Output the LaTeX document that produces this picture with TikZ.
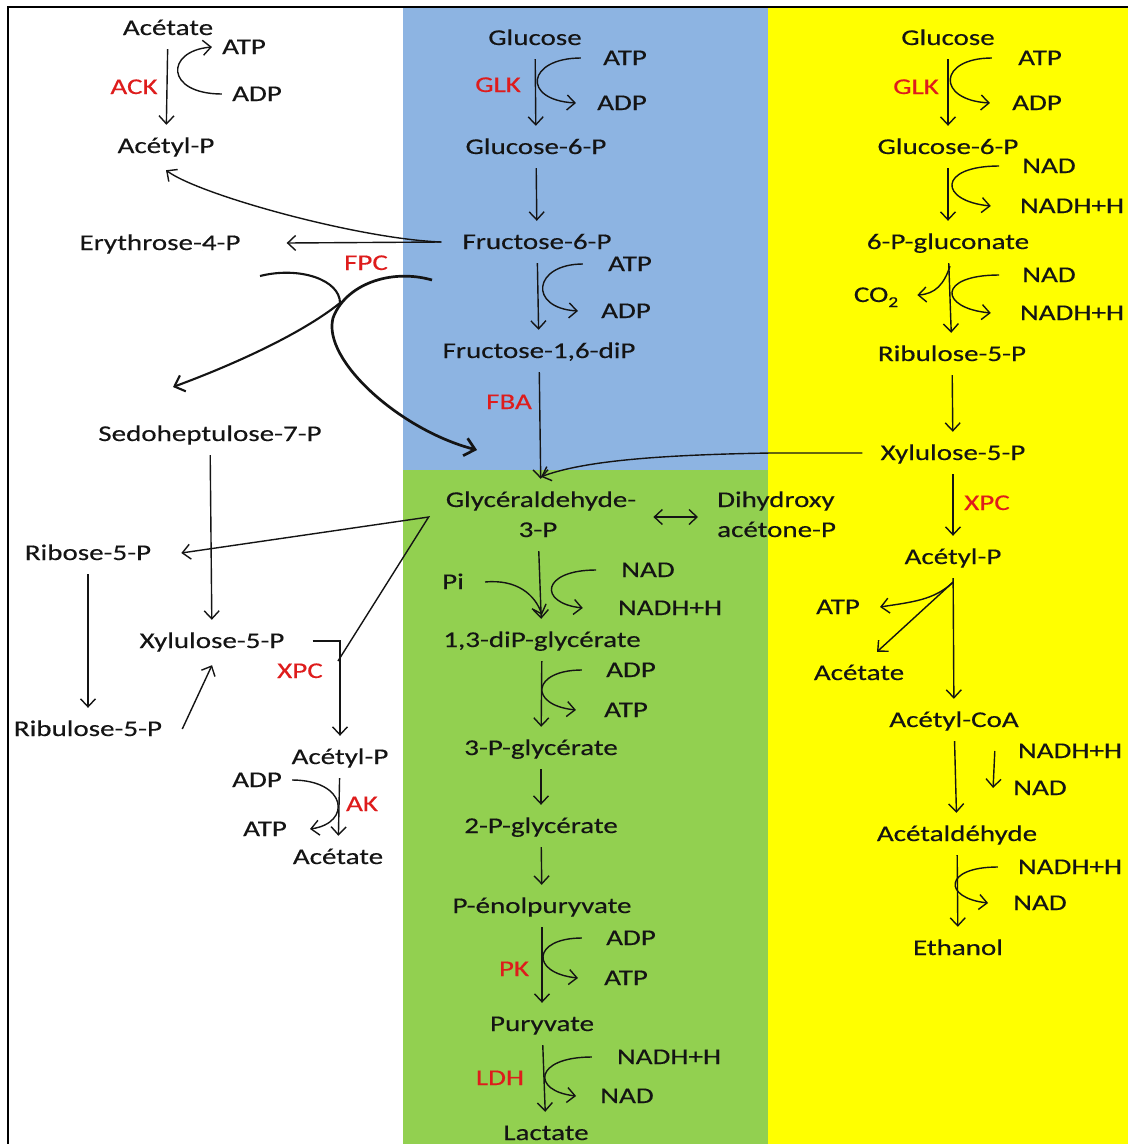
\documentclass[tikz,border=0pt]{standalone}
\usepackage{fontspec}
\setmainfont{Carlito}[FakeStretch=1.29,FakeBold=0.3]
\usetikzlibrary{arrows.meta,calc}
\definecolor{bluebg}{RGB}{141,180,226}
\definecolor{greenbg}{RGB}{146,208,80}
\definecolor{yellowbg}{RGB}{255,255,0}
\definecolor{enz}{RGB}{222,28,28}
\definecolor{ink}{RGB}{20,20,20}
\begin{document}
\begin{tikzpicture}[x=1pt,y=-1pt,
  lbl/.style={inner xsep=6pt, inner ysep=14pt, text height=14pt, text depth=0pt,
              font=\fontsize{22.5}{30}\selectfont, text=ink},
  enzyme/.style={lbl, text=enz},
  arr/.style={draw=ink, line width=1.4pt, -{Straight Barb[length=8pt,width=15pt]}},
  dblarr/.style={draw=ink, line width=1.4pt, {Straight Barb[length=8pt,width=15pt]}-{Straight Barb[length=8pt,width=15pt]}},
  fpcarrA/.style={draw=ink, line width=2.1pt, -{Straight Barb[length=9pt,width=17pt]}},
  fpcarrB/.style={draw=ink, line width=2.7pt, -{Straight Barb[length=10pt,width=18pt]}}]
\useasboundingbox (0,0) rectangle (1128,1144);
\fill[white] (0,0) rectangle (1128,1144);
\fill[bluebg] (403,8) rectangle (768,470);
\fill[greenbg] (403,470) rectangle (768,1144);
\fill[yellowbg] (768,8) rectangle (1128,1144);
\draw[line width=2.6pt] (8,1144) -- (8,7) -- (1128,7);

% ---------- left column ----------
\node[lbl] (acA) at (168,28) {Acétate};
\node[lbl] (atpA) at (244,47) {ATP};
\node[lbl] (adpA) at (257,94) {ADP};
\node[enzyme] (ack) at (134,87) {ACK};
\node[lbl] (acpA) at (166,146) {Acétyl-P};
\node[lbl] (ery) at (160,243) {Erythrose-4-P};
\node[enzyme] (fpc) at (366,263) {FPC};
\node[lbl] (sedo) at (210,434) {Sedoheptulose-7-P};
\node[lbl] (rib) at (88,553) {Ribose-5-P};
\node[lbl] (xylL) at (212,641) {Xylulose-5-P};
\node[enzyme] (xpcL) at (300,671) {XPC};
\node[lbl] (rbl) at (88,729) {Ribulose-5-P};
\node[lbl] (acpL) at (340,757) {Acétyl-P};
\node[lbl] (adpL) at (257,780) {ADP};
\node[enzyme] (ak) at (362,804) {AK};
\node[lbl] (atpL) at (265,829) {ATP};
\node[lbl] (acL) at (338,857) {Acétate};

% ---------- blue column ----------
\node[lbl] (glcB) at (535,38) {Glucose};
\node[lbl] (atpB1) at (625,58) {ATP};
\node[lbl] (adpB1) at (622,103) {ADP};
\node[enzyme] (glkB) at (498,85) {GLK};
\node[lbl] (g6pB) at (536,147) {Glucose-6-P};
\node[lbl] (f6p) at (537,242) {Fructose-6-P};
\node[lbl] (atpB2) at (630,264) {ATP};
\node[lbl] (adpB2) at (626,311) {ADP};
\node[lbl] (f16) at (539,351) {Fructose-1,6-diP};
\node[enzyme] (fba) at (509,402) {FBA};

% ---------- green column ----------
\node[lbl] (g3p) at (541,500) {Glycéraldehyde-};
\node[lbl] (g3pb) at (538,530) {3-P};
\node[lbl, anchor=west] (dhap1) at (711,500) {Dihydroxy};
\node[lbl, anchor=west] (dhap2) at (711,530) {acétone-P};
\node[lbl] (pi) at (453,582) {Pi};
\node[lbl] (nadG) at (648,570) {NAD};
\node[lbl] (nadhG) at (670,608) {NADH+H};
\node[lbl] (bpg) at (542,640) {1,3-diP-glycérate};
\node[lbl] (adpG) at (631,670) {ADP};
\node[lbl] (atpG) at (626,710) {ATP};
\node[lbl] (pg3) at (541,748) {3-P-glycérate};
\node[lbl] (pg2) at (541,826) {2-P-glycérate};
\node[lbl] (pep) at (542,906) {P-énolpuryvate};
\node[lbl] (adpG2) at (631,938) {ADP};
\node[lbl] (atpG2) at (626,978) {ATP};
\node[enzyme] (pk) at (514,969) {PK};
\node[lbl] (pyr) at (542,1024) {Puryvate};
\node[lbl] (nadhG2) at (669,1057) {NADH+H};
\node[lbl] (nadG2) at (627,1096) {NAD};
\node[enzyme] (ldh) at (500,1078) {LDH};
\node[lbl] (lac) at (546,1133) {Lactate};

% ---------- yellow column ----------
\node[lbl] (glcY) at (948,38) {Glucose};
\node[lbl] (atpY) at (1040,58) {ATP};
\node[lbl] (adpY) at (1037,103) {ADP};
\node[enzyme] (glkY) at (916,87) {GLK};
\node[lbl] (g6pY) at (948,147) {Glucose-6-P};
\node[lbl] (nadY1) at (1049,166) {NAD};
\node[lbl] (nadhY1) at (1072,206) {NADH+H};
\node[lbl] (pgl) at (948,242) {6-P-gluconate};
\node[lbl] (nadY2) at (1049,275) {NAD};
\node[lbl] (nadhY2) at (1072,313) {NADH+H};
\node[lbl] (co2) at (876,295) {CO\raisebox{-5pt}{\fontsize{15}{15}\selectfont 2}};
\node[lbl] (rblY) at (952,354) {Ribulose-5-P};
\node[lbl] (xylY) at (953,453) {Xylulose-5-P};
\node[enzyme] (xpcY) at (987,503) {XPC};
\node[lbl] (acpY) at (953,557) {Acétyl-P};
\node[lbl] (atpY2) at (838,607) {ATP};
\node[lbl] (acY) at (859,673) {Acétate};
\node[lbl] (accoa) at (954,720) {Acétyl-CoA};
\node[lbl] (nadhY3) at (1070,751) {NADH+H};
\node[lbl] (nadY3) at (1040,788) {NAD};
\node[lbl] (acald) at (957,834) {Acétaldéhyde};
\node[lbl] (nadhY4) at (1070,867) {NADH+H};
\node[lbl] (nadY4) at (1040,903) {NAD};
\node[lbl] (eth) at (958,948) {Ethanol};

% ---------- left column connectors ----------
\draw[arr] (acA) -- (acpA);
\draw[arr] ([xshift=-4pt]adpA.west) .. controls +(-57,0) and +(-47,4) .. ([xshift=-4pt]atpA.west);
\draw[arr] ([xshift=-15pt]f6p.west) -- ([xshift=40pt]ery.east);
\draw[arr] ([xshift=-15pt]f6p.west) .. controls +(-82,-3) and +(34,25) .. ([yshift=-3pt]acpA.south);
\coordinate (fpcA0) at (260,276);
\coordinate (fpcA1) at (173,387);
\coordinate (fpcB0) at (432,280);
\coordinate (fpcB1) at (477,450);
\draw[fpcarrA] (fpcA0) .. controls (300,266) and (340,280) .. (340,303)
   .. controls (300,335) and (230,366) .. (fpcA1);
\draw[fpcarrB] (fpcB0) .. controls (390,268) and (345,285) .. (333,318)
   .. controls (322,360) and (400,430) .. (fpcB1);
\draw[arr] (sedo) -- (xylL);
\draw[arr] (rib) -- (rbl);
\draw[arr] ([xshift=14pt]rbl.east) -- ([yshift=-3pt]xylL.south);
\draw[arr] ([xshift=22pt]xylL.east) -| (acpL.north);
\draw[arr] ($(xylL.east -| acpL.north)+(-2,20)$) -- ([xshift=-11pt,yshift=-17pt]g3p.west) -- ([xshift=24pt]rib.east);
\draw[arr] (acpL) -- (acL);
\draw[arr] ([xshift=4pt]adpL.east) .. controls +(55,0) and +(42,-6) .. ([xshift=17pt]atpL.east);

% ---------- blue / green connectors ----------
\draw[arr] (glcB) -- (g6pB);
\draw[arr] ([xshift=-16pt]atpB1.west) .. controls +(-54,0) and +(-55,-3) .. ([xshift=-15pt]adpB1.west);
\draw[arr] (g6pB) -- (f6p);
\draw[arr] (f6p) -- (f16);
\draw[arr] ([xshift=-19pt]atpB2.west) .. controls +(-50,0) and +(-50,-3) .. ([xshift=-17pt]adpB2.west);
\draw[arr] (f16) -- (g3p);
\draw[arr] ([xshift=-12pt]xylY.west) -- ++(-92,0) .. controls +(-120,2) and +(40,-15) .. ([yshift=2pt]g3p.north);
\draw[dblarr] ([xshift=11pt,yshift=-17pt]g3p.east) -- ([xshift=-13pt,yshift=-17pt]dhap1.west);
\draw[arr] (g3pb) -- (bpg);
\draw[arr] ([xshift=15pt]pi.east) .. controls +(32,-3) and +(-7,-20) .. ([yshift=4pt]bpg.north);
\draw[arr] ([xshift=-19pt]nadG.west) .. controls +(-55,0) and +(-45,-5) .. ([xshift=-29pt]nadhG.west);
\draw[arr] (bpg) -- (pg3);
\draw[arr] ([xshift=-18pt]adpG.west) .. controls +(-50,0) and +(-48,-5) .. ([xshift=-22pt]atpG.west);
\draw[arr] (pg3) -- (pg2);
\draw[arr] (pg2) -- (pep);
\draw[arr] (pep) -- (pyr);
\draw[arr] ([xshift=-18pt]adpG2.west) .. controls +(-50,0) and +(-48,-5) .. ([xshift=-20pt]atpG2.west);
\draw[arr] (pyr) -- (lac);
\draw[arr] ([xshift=-19pt]nadhG2.west) .. controls +(-58,0) and +(-45,-5) .. ([xshift=-18pt]nadG2.west);

% ---------- yellow connectors ----------
\draw[arr] (glcY) -- (g6pY);
\draw[arr] ([xshift=-20pt]atpY.west) .. controls +(-54,0) and +(-54,-3) .. ([xshift=-16pt]adpY.west);
\draw[arr] (g6pY) -- (pgl);
\draw[arr] ([xshift=-17pt]nadY1.west) .. controls +(-62,0) and +(-52,-5) .. ([xshift=-23pt]nadhY1.west);
\draw[arr] (pgl) -- (rblY);
\draw[arr] ([xshift=2pt,yshift=-3pt]pgl.south) .. controls +(-6,18) and +(18,-1) .. ([xshift=13pt]co2.east);
\draw[arr] ([xshift=-17pt]nadY2.west) .. controls +(-62,0) and +(-52,-5) .. ([xshift=-23pt]nadhY2.west);
\draw[arr] (rblY) -- (xylY);
\draw[arr] (xylY) -- (acpY);
\draw[arr] (acpY) -- (accoa);
\draw[arr] ([yshift=-4pt]acpY.south) .. controls +(-19,18) and +(32,-5) .. ([xshift=14pt]atpY2.east);
\draw[arr] ([yshift=-4pt]acpY.south) -- ([xshift=18pt]acY.north);
\draw[arr] (accoa) -- (acald);
\draw[arr] ([xshift=-17pt]nadhY3.west) -- ([xshift=-14pt]nadY3.west);
\draw[arr] (acald) -- (eth);
\draw[arr] ([xshift=-14pt]nadhY4.west) .. controls +(-55,0) and +(-45,-5) .. ([xshift=-19pt]nadY4.west);
\end{tikzpicture}
\end{document}
